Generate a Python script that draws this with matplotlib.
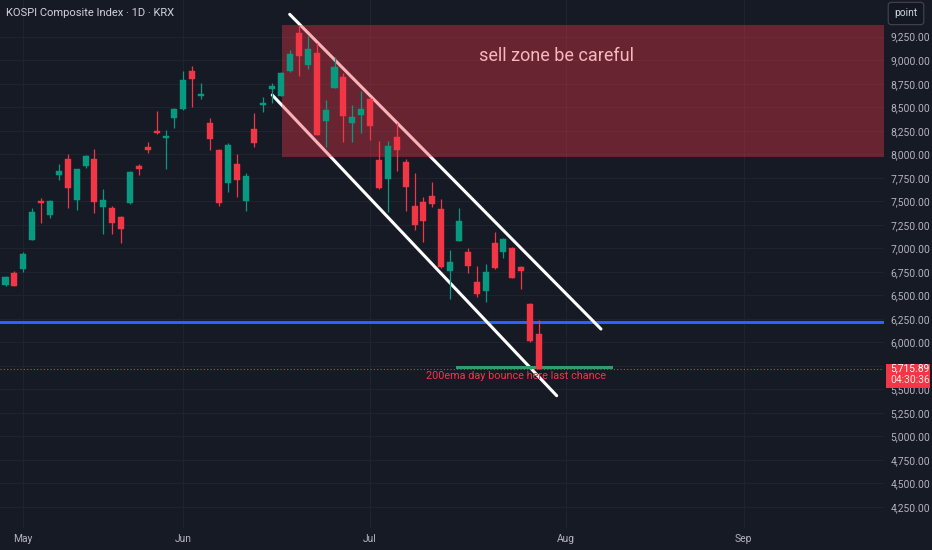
import matplotlib
matplotlib.use("Agg")
import matplotlib.pyplot as plt
from matplotlib.patches import Rectangle
import matplotlib.transforms as mtransforms

# ---------------- data ----------------
opens = [6610, 6738, 6780, 7089, 7503, 7354, 7780, 7950, 7514, 7875,
         7950, 7439, 7429, 7333, 7482, 7875, 8077, 8247, 8173, 8386,
         8481, 8885, 8620, 8333, 8045, 7695, 7897, 7503, 8269, 8524,
         8694, 8620, 8885, 9289, 8949, 9077, 8354, 8705, 8822, 8333,
         8418, 8588, 7939, 7737, 8184, 7918, 7450, 7493, 7556, 7418,
         6759, 7078, 6961, 6642, 6546, 7057, 6961, 7004, 6802, 6408,
         6089]
highs = [6706, 6759, 6961, 7429, 7535, 7514, 7897, 8003, 7843, 7992,
         8056, 7631, 7450, 7340, 7822, 7897, 8131, 8460, 8258, 8492,
         8885, 8939, 8758, 8386, 8052, 8120, 8003, 7801, 8439, 8609,
         8758, 8875, 9109, 9374, 9258, 9183, 8577, 9034, 8864, 8524,
         8673, 8609, 8141, 8141, 8333, 7950, 7801, 7546, 7705, 7524,
         6982, 7429, 7004, 6812, 6833, 7174, 7110, 7010, 6812, 6419,
         6238]
lows = [6599, 6599, 6748, 7089, 7269, 7322, 7726, 7429, 7408, 7854,
        7376, 7152, 7152, 7057, 7475, 7780, 8014, 8220, 7843, 8279,
        8475, 8503, 8588, 8045, 7450, 7599, 7546, 7397, 8077, 8449,
        8545, 8615, 8880, 8832, 8907, 8200, 8077, 8700, 8131, 8131,
        8226, 8152, 7631, 7386, 7822, 7397, 7195, 7067, 7439, 6795,
        6461, 7073, 6738, 6483, 6429, 6785, 6897, 6685, 6568, 6004,
        5714]
closes = [6695, 6599, 6940, 7386, 7487, 7503, 7822, 7641, 7843, 7982,
          7493, 7514, 7269, 7206, 7812, 7843, 8045, 8226, 8184, 8481,
          8790, 8800, 8641, 8162, 7482, 8099, 7726, 7769, 8120, 8545,
          8726, 8864, 9066, 9045, 9119, 8205, 8471, 8928, 8407, 8396,
          8481, 8301, 7641, 8088, 8045, 7652, 7248, 7291, 7471, 6802,
          6855, 7291, 6812, 6514, 6748, 6791, 7099, 6685, 6759, 6015,
          5715.89]

month_labels = ["May", "Jun", "Jul", "Aug", "Sep"]
month_pos = [2, 20, 41, 63, 83]
price_ticks = [4250, 4500, 4750, 5000, 5250, 5500, 5750, 6000, 6250, 6500,
               6750, 7000, 7250, 7500, 7750, 8000, 8250, 8500, 8750, 9000, 9250]
hidden_ticks = [5750]  # covered by the last-price label

title = "KOSPI Composite Index \u00b7 1D \u00b7 KRX"
last_price = 5715.89
last_time = "04:30:36"
sell_zone_x0 = 31.1
sell_zone_low, sell_zone_high = 7974, 9378
sell_zone_text = "sell zone be careful"
sell_text_pos = (62.0, 9040)
channel_upper = [(31.96, 9488), (66.97, 6142)]
channel_lower = [(30.0, 8630), (61.99, 5433)]
blue_level = 6212
green_seg = (50.8, 68.1, 5741)
ema_text = "200ema day bounce here last chance"
ema_text_pos = (57.4, 5643)

# ---------------- style ----------------
BG = "#161a25"
GRID = "#1f2330"
UP = "#089981"
DOWN = "#f23645"
AXTXT = "#b2b5be"

W, H = 932, 550
fig = plt.figure(figsize=(W / 100, H / 100), dpi=100, facecolor=BG)
ax = fig.add_axes([0, 22 / H, 884 / W, 528 / H])
ax.set_facecolor(BG)
ax.set_xlim(-0.62, 98.8)
ymin, ymax = 4026.5, 9640.2
ax.set_ylim(ymin, ymax)
for s in ax.spines.values():
    s.set_visible(False)

# grid
for p in price_ticks:
    ax.axhline(p, color=GRID, lw=0.8, zorder=0)
for m in month_pos:
    ax.axvline(m, color=GRID, lw=0.8, zorder=0)

# y ticks on right
ax.yaxis.tick_right()
ax.set_yticks(price_ticks)
ax.set_yticklabels(["" if p in hidden_ticks else f"{p:,.2f}" for p in price_ticks])
ax.tick_params(axis="y", length=0, pad=4.5, labelsize=7.4, labelcolor=AXTXT)
ax.set_xticks(month_pos)
ax.set_xticklabels(month_labels)
ax.tick_params(axis="x", length=0, pad=4, labelsize=7.4, labelcolor=AXTXT)
for lab in ax.get_xticklabels() + ax.get_yticklabels():
    lab.set_fontfamily("Roboto")

# lines
ax.axhline(blue_level, color="#2962ff", lw=2.2, zorder=2)
ax.plot([channel_upper[0][0], channel_upper[1][0]],
        [channel_upper[0][1], channel_upper[1][1]],
        color="white", lw=2.2, solid_capstyle="round", zorder=2)
ax.plot([channel_lower[0][0], channel_lower[1][0]],
        [channel_lower[0][1], channel_lower[1][1]],
        color="white", lw=2.2, solid_capstyle="round", zorder=2)
ax.plot([green_seg[0], green_seg[1]], [green_seg[2], green_seg[2]],
        color="#2e9e6e", lw=2.2, zorder=2)
ax.axhline(last_price, color=DOWN, lw=0.8, ls=(0, (1, 2)), zorder=2)

# sell zone
ax.add_patch(Rectangle((sell_zone_x0, sell_zone_low), 200,
                       sell_zone_high - sell_zone_low,
                       facecolor=(242 / 255, 54 / 255, 69 / 255, 0.38),
                       edgecolor="none", zorder=3))
ax.text(sell_text_pos[0], sell_text_pos[1], sell_zone_text, color="#f5b8bf",
        fontsize=13, ha="center", va="center", family="Roboto", zorder=6)

# candles
px_per_unit = 528 / (ymax - ymin)
min_h = 1.5 / px_per_unit
for i, (o, h, l, c) in enumerate(zip(opens, highs, lows, closes)):
    col = UP if c >= o else DOWN
    ax.vlines(i, l, h, color=col, lw=0.9, zorder=4)
    bot = min(o, c)
    hgt = max(abs(c - o), min_h)
    ax.add_patch(Rectangle((i - 0.34, bot), 0.68, hgt, facecolor=col,
                           edgecolor=col, lw=0.3, zorder=5))

ax.text(ema_text_pos[0], ema_text_pos[1], ema_text, color=DOWN,
        fontsize=7.8, ha="center", va="center", family="Roboto", zorder=6)

# title
fig.text(6 / W, 1 - 13 / H, title, color="#d1d4dc", fontsize=8.0,
         ha="left", va="center", family="Roboto")

# last price label
trans = mtransforms.blended_transform_factory(ax.transAxes, ax.transData)
ax.add_patch(Rectangle((1.002, last_price - 18.5 / px_per_unit), 44 / 884,
                       24 / px_per_unit, transform=trans, facecolor=DOWN,
                       edgecolor="none", clip_on=False, zorder=10))
ax.text(1.0 + 24 / 884 + 0.002, last_price + 0.5 / px_per_unit, f"{last_price:,.2f}",
        transform=trans, color="white", fontsize=7.4, ha="center",
        va="center", family="Roboto", clip_on=False, zorder=11)
ax.text(1.0 + 24 / 884 + 0.002, last_price - 11 / px_per_unit, last_time,
        transform=trans, color="#fde3e5", fontsize=7.4, ha="center",
        va="center", family="Roboto", clip_on=False, zorder=11)

# "point" box
fig.text(906 / W, 1 - 13.5 / H, "point", color="#d1d4dc", fontsize=7.4,
         ha="center", va="center", family="Roboto",
         bbox=dict(boxstyle="round,pad=0.6,rounding_size=0.3",
                   facecolor="#131722", edgecolor="#434651", lw=0.8))

fig.savefig("out.png", dpi=100, facecolor=BG)
